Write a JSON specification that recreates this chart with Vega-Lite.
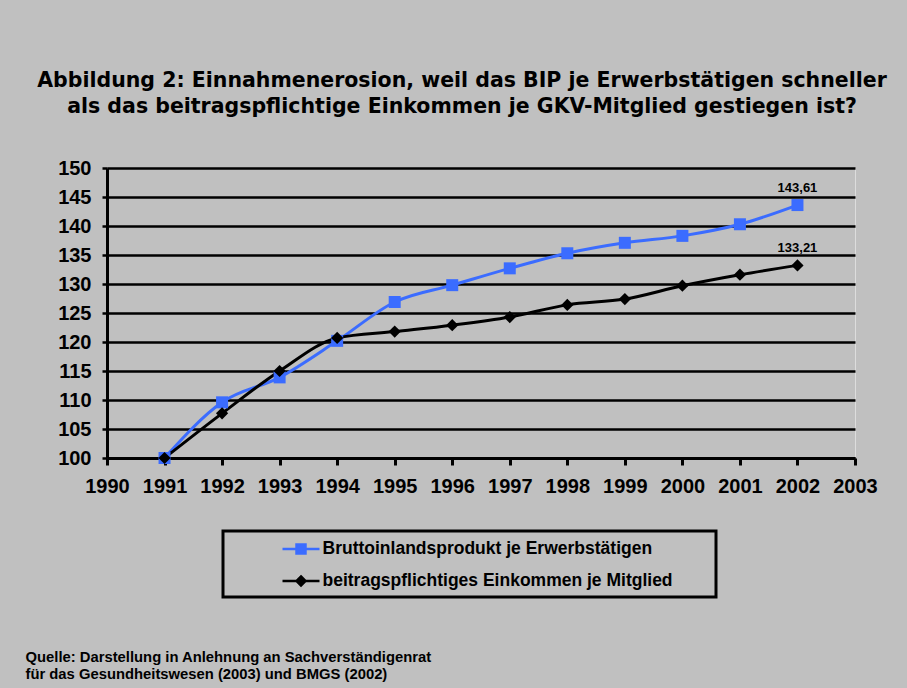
{
  "$schema": "https://vega.github.io/schema/vega-lite/v6.json",
  "autosize": "none",
  "width": 748,
  "height": 290,
  "padding": {"left": 107, "top": 168, "right": 52, "bottom": 230},
  "background": "#c0c0c0",
  "title": {
    "text": ["Abbildung 2: Einnahmenerosion, weil das BIP je Erwerbstätigen schneller", "als das beitragspflichtige Einkommen je GKV-Mitglied gestiegen ist?"],
    "font": "DejaVu Sans",
    "fontSize": 20.5,
    "fontWeight": "bold",
    "color": "black",
    "lineHeight": 26,
    "anchor": "middle",
    "frame": "group",
    "offset": 41,
    "dx": -19
  },
  "datasets": {
    "series": [
      {"year": 1991, "series": "Bruttoinlandsprodukt je Erwerbstätigen", "value": 100},
      {"year": 1992, "series": "Bruttoinlandsprodukt je Erwerbstätigen", "value": 109.6},
      {"year": 1993, "series": "Bruttoinlandsprodukt je Erwerbstätigen", "value": 113.9},
      {"year": 1994, "series": "Bruttoinlandsprodukt je Erwerbstätigen", "value": 120.2},
      {"year": 1995, "series": "Bruttoinlandsprodukt je Erwerbstätigen", "value": 126.9},
      {"year": 1996, "series": "Bruttoinlandsprodukt je Erwerbstätigen", "value": 129.8},
      {"year": 1997, "series": "Bruttoinlandsprodukt je Erwerbstätigen", "value": 132.7},
      {"year": 1998, "series": "Bruttoinlandsprodukt je Erwerbstätigen", "value": 135.3},
      {"year": 1999, "series": "Bruttoinlandsprodukt je Erwerbstätigen", "value": 137.1},
      {"year": 2000, "series": "Bruttoinlandsprodukt je Erwerbstätigen", "value": 138.3},
      {"year": 2001, "series": "Bruttoinlandsprodukt je Erwerbstätigen", "value": 140.3},
      {"year": 2002, "series": "Bruttoinlandsprodukt je Erwerbstätigen", "value": 143.61},
      {"year": 1991, "series": "beitragspflichtiges Einkommen je Mitglied", "value": 100},
      {"year": 1992, "series": "beitragspflichtiges Einkommen je Mitglied", "value": 107.7},
      {"year": 1993, "series": "beitragspflichtiges Einkommen je Mitglied", "value": 115.0},
      {"year": 1994, "series": "beitragspflichtiges Einkommen je Mitglied", "value": 120.7},
      {"year": 1995, "series": "beitragspflichtiges Einkommen je Mitglied", "value": 121.8},
      {"year": 1996, "series": "beitragspflichtiges Einkommen je Mitglied", "value": 122.9},
      {"year": 1997, "series": "beitragspflichtiges Einkommen je Mitglied", "value": 124.3},
      {"year": 1998, "series": "beitragspflichtiges Einkommen je Mitglied", "value": 126.4},
      {"year": 1999, "series": "beitragspflichtiges Einkommen je Mitglied", "value": 127.4},
      {"year": 2000, "series": "beitragspflichtiges Einkommen je Mitglied", "value": 129.7},
      {"year": 2001, "series": "beitragspflichtiges Einkommen je Mitglied", "value": 131.6},
      {"year": 2002, "series": "beitragspflichtiges Einkommen je Mitglied", "value": 133.21}
    ],
    "labels": [
      {"year": 2002, "value": 143.61, "label": "143,61"},
      {"year": 2002, "value": 133.21, "label": "133,21"}
    ]
  },
  "encoding": {
    "x": {
      "field": "year",
      "type": "quantitative",
      "scale": {"domain": [1990, 2003], "nice": false, "zero": false},
      "axis": {
        "values": [1990, 1991, 1992, 1993, 1994, 1995, 1996, 1997, 1998, 1999, 2000, 2001, 2002, 2003],
        "format": "d",
        "grid": false,
        "labelFont": "Liberation Sans",
        "labelFontSize": 20,
        "labelFontWeight": "bold",
        "labelColor": "black",
        "labelPadding": 11,
        "labelFlush": false,
        "labelOverlap": false,
        "domainColor": "black",
        "domainWidth": 3,
        "tickColor": "black",
        "tickWidth": 3,
        "tickSize": 7,
        "title": ["Quelle: Darstellung in Anlehnung an Sachverständigenrat", "\u00a0für das Gesundheitswesen (2003) und BMGS (2002)"],
        "titleX": -82,
        "titleY": 203,
        "titleAlign": "left",
        "titleAnchor": "start",
        "titleBaseline": "alphabetic",
        "titleFont": "Liberation Sans",
        "titleFontSize": 14.8,
        "titleFontWeight": "bold",
        "titleColor": "black",
        "titleLineHeight": 17.5
      }
    },
    "y": {
      "field": "value",
      "type": "quantitative",
      "scale": {"domain": [100, 150], "nice": false, "zero": false},
      "axis": {
        "values": [100, 105, 110, 115, 120, 125, 130, 135, 140, 145, 150],
        "grid": true,
        "gridColor": "black",
        "gridWidth": 2.5,
        "gridOpacity": 1,
        "labelFont": "Liberation Sans",
        "labelFontSize": 20,
        "labelFontWeight": "bold",
        "labelColor": "black",
        "labelPadding": 11,
        "labelFlush": false,
        "labelOverlap": false,
        "domainColor": "black",
        "domainWidth": 3,
        "tickColor": "black",
        "tickWidth": 2.5,
        "tickSize": 5,
        "title": null
      }
    }
  },
  "layer": [
    {
      "data": {"name": "series"},
      "mark": {"type": "line", "interpolate": "monotone", "strokeWidth": 3},
      "encoding": {
        "color": {
          "field": "series",
          "type": "nominal",
          "scale": {"domain": ["Bruttoinlandsprodukt je Erwerbstätigen", "beitragspflichtiges Einkommen je Mitglied"], "range": ["#3b6cff", "#000000"]},
          "legend": {
            "title": "\u00a0",
            "titleOrient": "right",
            "titleFontSize": 16,
            "titlePadding": 37,
            "orient": "none",
            "legendX": 116,
            "legendY": 363,
            "direction": "vertical",
            "padding": 6.5,
            "strokeColor": "black",
            "labelFont": "Liberation Sans",
            "labelFontSize": 17.5,
            "labelFontWeight": "bold",
            "labelColor": "black",
            "symbolOffset": 60,
            "labelOffset": 10,
            "labelLimit": 700,
            "symbolSize": 400,
            "rowPadding": 11,
            "encode": {
              "legend": {"update": {"strokeWidth": {"value": 3}}},
              "symbols": {
                "update": {
                  "shape": {"signal": "datum.value === 'Bruttoinlandsprodukt je Erwerbstätigen' ? 'M-1.85,0H1.85M-0.45,-0.45H0.45V0.45H-0.45Z' : 'M-1.85,0H1.85M0,-0.45L0.45,0L0,0.45L-0.45,0Z'"},
                  "fill": {"signal": "datum.value === 'Bruttoinlandsprodukt je Erwerbstätigen' ? '#3b6cff' : '#000000'"},
                  "stroke": {"signal": "datum.value === 'Bruttoinlandsprodukt je Erwerbstätigen' ? '#3b6cff' : '#000000'"},
                  "strokeWidth": {"value": 2.5},
                  "size": {"value": 400},
                  "opacity": {"value": 1}
                }
              }
            }
          }
        }
      }
    },
    {
      "data": {"name": "series"},
      "transform": [{"filter": {"field": "series", "equal": "Bruttoinlandsprodukt je Erwerbstätigen"}}],
      "mark": {"type": "point", "filled": true, "opacity": 1, "shape": "square", "size": 144, "color": "#3b6cff"}
    },
    {
      "data": {"name": "series"},
      "transform": [{"filter": {"field": "series", "equal": "beitragspflichtiges Einkommen je Mitglied"}}],
      "mark": {"type": "point", "filled": true, "opacity": 1, "shape": "diamond", "size": 150, "color": "#000000"}
    },
    {
      "data": {"name": "labels"},
      "mark": {"type": "text", "dy": -17, "font": "Liberation Sans", "fontSize": 13, "fontWeight": "bold", "color": "black"},
      "encoding": {"text": {"field": "label", "type": "nominal"}}
    }
  ]
}
